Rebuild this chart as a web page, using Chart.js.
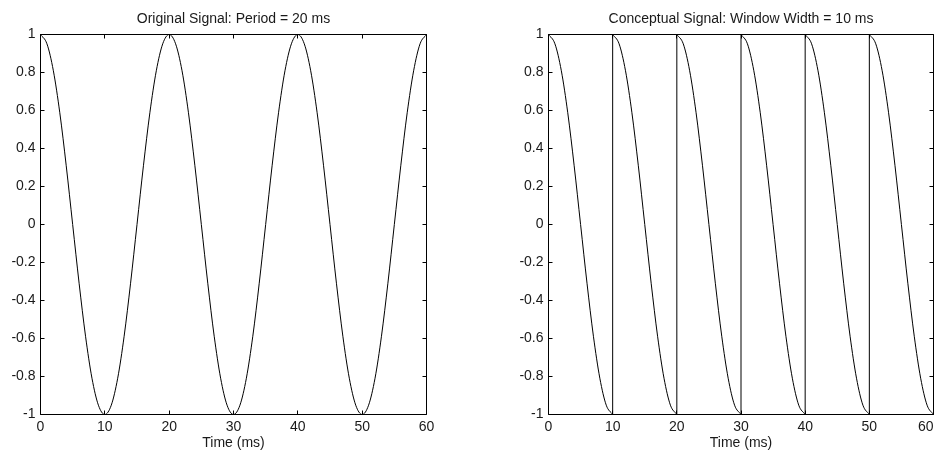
<!DOCTYPE html>
<html>
<head>
<meta charset="utf-8">
<script src="https://cdn.jsdelivr.net/npm/chart.js@4.4.1/dist/chart.umd.min.js"></script>
<style>
  html, body { margin: 0; padding: 0; background: #fff; }
  #wrap { position: relative; width: 940px; height: 456px; overflow: hidden; }
  .panel { position: absolute; top: 0; width: 470px; height: 456px; }
</style>
</head>
<body>
<div id="wrap">
  <div class="panel" style="left:0"><canvas id="original" width="470" height="456"></canvas></div>
  <div class="panel" style="left:470px"><canvas id="conceptual" width="470" height="456"></canvas></div>
</div>
<script>
// Time axis (ms), sampled every 1 ms
const timeMs = [0,1,2,3,4,5,6,7,8,9,10,11,12,13,14,15,16,17,18,19,20,
                21,22,23,24,25,26,27,28,29,30,31,32,33,34,35,36,37,38,39,40,
                41,42,43,44,45,46,47,48,49,50,51,52,53,54,55,56,57,58,59,60];

// Original signal: 20 ms period cosine
const originalSignal = [
  1, 0.951, 0.809, 0.588, 0.309, 0, -0.309, -0.588, -0.809, -0.951,
  -1, -0.951, -0.809, -0.588, -0.309, 0, 0.309, 0.588, 0.809, 0.951,
  1, 0.951, 0.809, 0.588, 0.309, 0, -0.309, -0.588, -0.809, -0.951,
  -1, -0.951, -0.809, -0.588, -0.309, 0, 0.309, 0.588, 0.809, 0.951,
  1, 0.951, 0.809, 0.588, 0.309, 0, -0.309, -0.588, -0.809, -0.951,
  -1, -0.951, -0.809, -0.588, -0.309, 0, 0.309, 0.588, 0.809, 0.951,
  1
];

// Conceptual signal: each 10 ms window repeats the same half period
const windowOffsetMs = [0,1,2,3,4,5,6,7,8,9,10];
const windowShape = [1, 0.951, 0.809, 0.588, 0.309, 0, -0.309, -0.588, -0.809, -0.951, -1];
const windowStartsMs = [0, 10, 20, 30, 40, 50];
const jumpTimesMs = [10, 20, 30, 40, 50];
const jumpLevels = [-1, 1];

// Axis ticks
const xTickValues = [0, 10, 20, 30, 40, 50, 60];
const xTickLabels = ['0', '10', '20', '30', '40', '50', '60'];
const yTickValues = [-1, -0.8, -0.6, -0.4, -0.2, 0, 0.2, 0.4, 0.6, 0.8, 1];
const yTickLabels = ['-1', '-0.8', '-0.6', '-0.4', '-0.2', '0', '0.2', '0.4', '0.6', '0.8', '1'];

const FONT = "'Liberation Sans', Arial, Helvetica, sans-serif";
const INK = '#000';
const TEXT = '#1a1a1a';

// Axes box with inward-pointing tick marks on all four sides
const boxTicks = {
  id: 'boxTicks',
  afterDatasetsDraw(chart) {
    const { ctx, scales: { x, y } } = chart;
    const snap = p => Math.round(p - 0.5) + 0.5;
    const L = snap(x.getPixelForValue(0)), R = snap(x.getPixelForValue(60));
    const T = snap(y.getPixelForValue(1)), B = snap(y.getPixelForValue(-1));
    const len = 4;
    ctx.save();
    ctx.strokeStyle = INK;
    ctx.lineWidth = 1;
    ctx.beginPath();
    ctx.rect(L, T, R - L, B - T);
    xTickValues.forEach(v => {
      const px = snap(x.getPixelForValue(v));
      ctx.moveTo(px, B); ctx.lineTo(px, B - len);
      ctx.moveTo(px, T); ctx.lineTo(px, T + len);
    });
    yTickValues.forEach(v => {
      const py = snap(y.getPixelForValue(v));
      ctx.moveTo(L, py); ctx.lineTo(L + len, py);
      ctx.moveTo(R, py); ctx.lineTo(R - len, py);
    });
    ctx.stroke();
    ctx.restore();
  }
};

// keepLastInside: nudge the final x label left so it stays inside the figure edge
function makeOptions(titleText, yAxisWidth, rightPad, keepLastInside) {
  const lastX = xTickLabels.length - 1;
  return {
    responsive: false,
    animation: false,
    devicePixelRatio: 1,
    layout: { padding: { left: 0, right: rightPad, top: 0, bottom: 0 } },
    elements: { point: { radius: 0, hoverRadius: 0 } },
    plugins: {
      legend: { display: false },
      tooltip: { enabled: false },
      title: {
        display: true,
        text: titleText,
        fullSize: false,
        color: TEXT,
        font: { family: FONT, size: 14, weight: 'normal' },
        padding: { top: 10.6, bottom: 7.1 }
      }
    },
    scales: {
      x: {
        type: 'linear',
        min: 0, max: 60,
        grid: { display: false, drawTicks: false },
        border: { display: false },
        afterBuildTicks: s => { s.ticks = xTickValues.map(v => ({ value: v })); },
        afterFit: s => { s.height = 41.5; s.paddingLeft = 0; s.paddingRight = 0; },
        ticks: {
          autoSkip: false,
          maxRotation: 0,
          padding: 4,
          color: TEXT,
          font: { family: FONT, size: 14 },
          callback: (v, i) => (keepLastInside && i === lastX) ? xTickLabels[i] + '    ' : xTickLabels[i]
        },
        title: {
          display: true,
          text: 'Time (ms)',
          color: TEXT,
          font: { family: FONT, size: 14 },
          padding: { top: 0, bottom: 4.6 }
        }
      },
      y: {
        type: 'linear',
        min: -1, max: 1,
        grid: { display: false, drawTicks: false },
        border: { display: false },
        afterBuildTicks: s => { s.ticks = yTickValues.map(v => ({ value: v })); },
        afterFit: s => { s.width = yAxisWidth; s.paddingTop = 0; s.paddingBottom = 0; },
        ticks: {
          autoSkip: false,
          padding: 5,
          color: TEXT,
          font: { family: FONT, size: 14 },
          callback: (v, i) => yTickLabels[i]
        }
      }
    }
  };
}

const lineStyle = {
  borderColor: INK,
  borderWidth: 1,
  fill: false,
  cubicInterpolationMode: 'monotone',
  clip: 3
};

// Left: original signal
new Chart(document.getElementById('original'), {
  type: 'line',
  data: {
    datasets: [{
      ...lineStyle,
      data: timeMs.map((t, i) => ({ x: t, y: originalSignal[i] }))
    }]
  },
  options: makeOptions('Original Signal: Period = 20 ms', 40.5, 43.5, false),
  plugins: [boxTicks]
});

// Right: windowed (conceptual) signal, one curve per window plus the resets
const windowSets = windowStartsMs.map(start => ({
  ...lineStyle,
  data: windowOffsetMs.map((o, i) => ({ x: start + o, y: windowShape[i] }))
}));
const jumpSets = jumpTimesMs.map(t => ({
  ...lineStyle,
  cubicInterpolationMode: 'default',
  data: jumpLevels.map(v => ({ x: t, y: v }))
}));

new Chart(document.getElementById('conceptual'), {
  type: 'line',
  data: { datasets: [...windowSets, ...jumpSets] },
  options: makeOptions('Conceptual Signal: Window Width = 10 ms', 78.5, 6.5, true),
  plugins: [boxTicks]
});
</script>
</body>
</html>
